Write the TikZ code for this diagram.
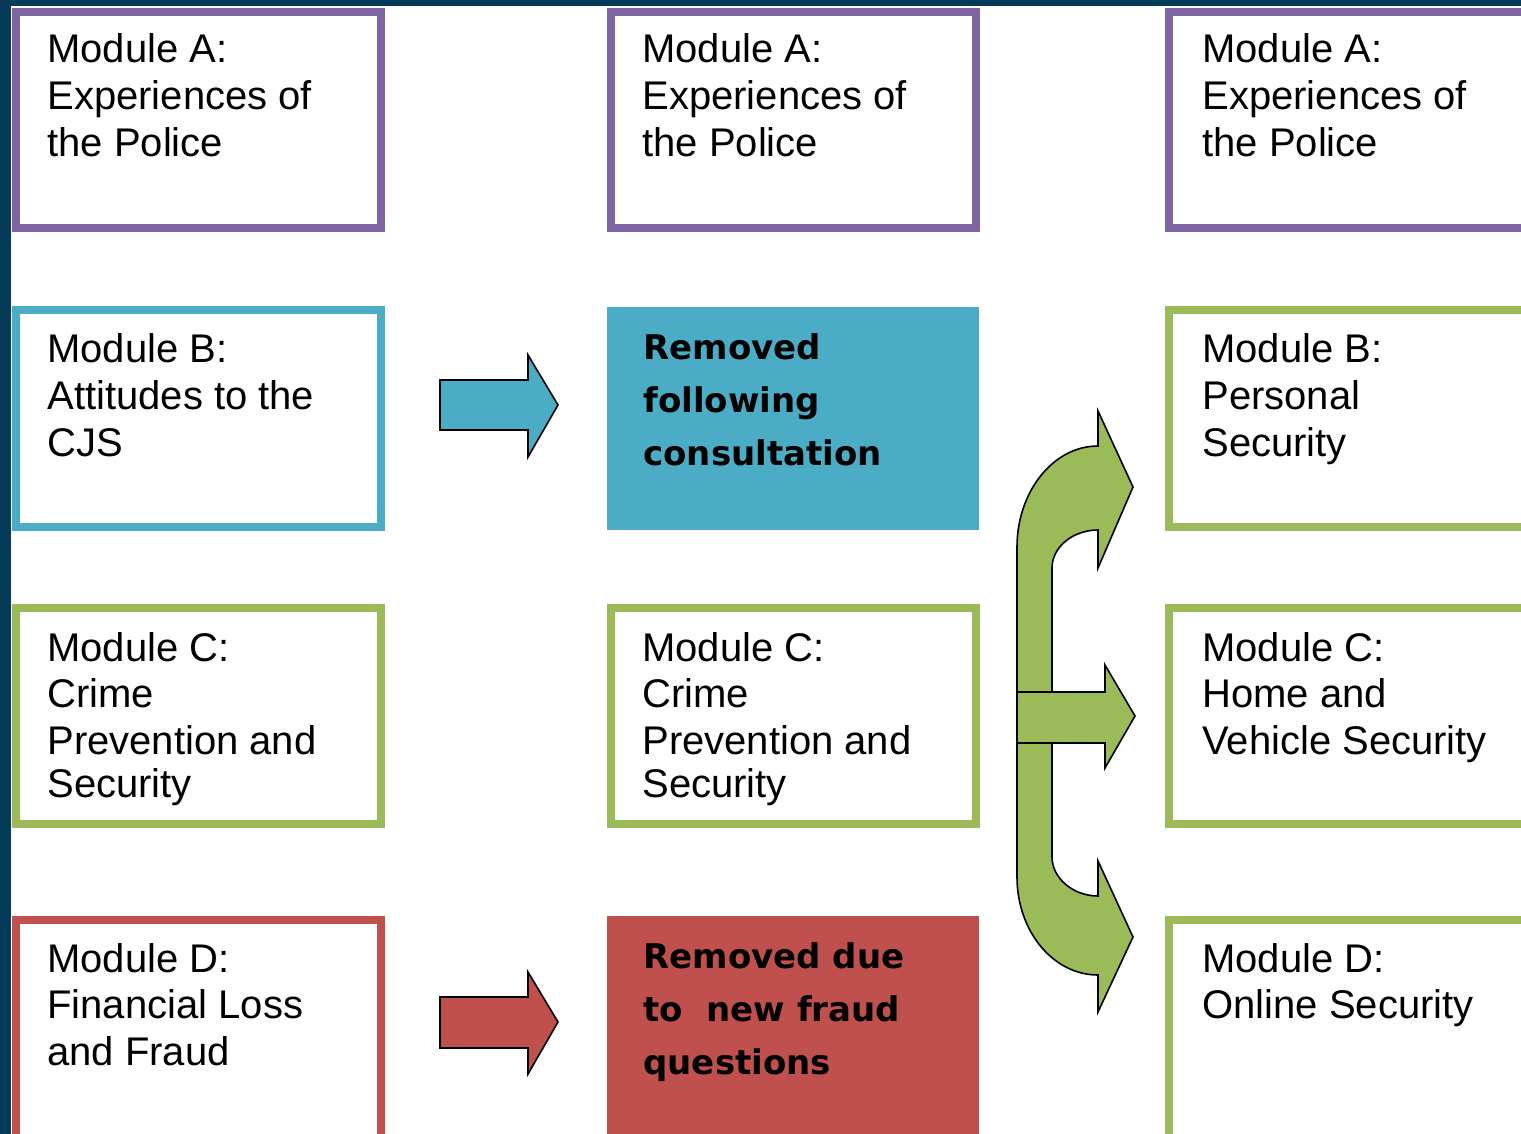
\documentclass[tikz,border=0pt]{standalone}
\usepackage{fontspec}
\setmainfont{Liberation Sans}
\newfontfamily\vbfont{DejaVu Sans}
\definecolor{bgdark}{HTML}{033B59}
\definecolor{mpurple}{HTML}{8064A2}
\definecolor{mblue}{HTML}{4BACC6}
\definecolor{mgreen}{HTML}{9BBB59}
\definecolor{mred}{HTML}{C0504D}
\newcommand\mlines[1]{\begin{tabular}[t]{@{}l@{}}#1\end{tabular}}
\tikzset{
  mbox/.style={draw=#1, line width=4pt, fill=white, minimum width=182.5pt, minimum height=108pt, inner sep=0pt},
  fbox/.style={fill=#1, draw=none, minimum width=186pt, minimum height=112pt, inner sep=0pt},
  mtext/.style={anchor=base west, inner sep=0pt, font=\fontsize{20}{23.3}\selectfont},
  btext/.style={anchor=base west, inner sep=0pt, font=\vbfont\bfseries\fontsize{17}{26.5}\selectfont},
  blockarrow/.style={fill=#1, draw=black, line width=0.8pt, line join=miter},
}
\begin{document}
\begin{tikzpicture}[x=0.5pt, y=-0.5pt]
\useasboundingbox (0,0) rectangle (1521,1134);
\clip (0,0) rectangle (1521,1134);
\fill[bgdark] (0,0) rectangle (1521,1134);
\fill[white] (11,6) rectangle (1530,1140);

% column 1
\node[mbox=mpurple] (a1) at (198.5,120) {};
\node[mbox=mblue] (b1) at (198.5,418.5) {};
\node[mbox=mgreen] (c1) at (198.5,715.5) {};
\node[mbox=mred, minimum height=110pt] (d1) at (198.5,1030) {};
\node[mtext] (ta1) at (47,63) {\mlines{Module A:\\Experiences of\\the Police}};
\node[mtext] (tb1) at (47,363) {\mlines{Module B:\\Attitudes to the\\CJS}};
\node[mtext] (tc1) at (47,661) {\mlines{Module C:\\Crime\\Prevention and\\[-1.5pt]Security}};
\node[mtext] (td1) at (47,972) {\mlines{Module D:\\Financial Loss\\and Fraud}};

% column 2
\node[mbox=mpurple] (a2) at (793,120) {};
\node[fbox=mblue, minimum height=111.5pt] (b2) at (793,418.5) {};
\node[mbox=mgreen] (c2) at (793,715.5) {};
\node[fbox=mred] (d2) at (793,1028) {};
\node[mtext] (ta2) at (642,63) {\mlines{Module A:\\Experiences of\\the Police}};
\node[btext] (tb2) at (643,359) {\mlines{Removed\\following\\consultation}};
\node[mtext] (tc2) at (642,661) {\mlines{Module C:\\Crime\\Prevention and\\[-1.5pt]Security}};
\node[btext] (td2) at (643,968) {\mlines{Removed due\\to\ \ new fraud\\questions}};

% column 3
\node[mbox=mpurple] (a3) at (1351.5,120) {};
\node[mbox=mgreen] (b3) at (1351.5,418.5) {};
\node[mbox=mgreen] (c3) at (1351.5,715.5) {};
\node[mbox=mgreen, minimum height=110pt] (d3) at (1351.5,1030) {};
\node[mtext] (ta3) at (1202,63) {\mlines{Module A:\\Experiences of\\the Police}};
\node[mtext] (tb3) at (1202,363) {\mlines{Module B:\\Personal\\Security}};
\node[mtext] (tc3) at (1202,661) {\mlines{Module C:\\Home and\\Vehicle Security}};
\node[mtext] (td3) at (1202,972) {\mlines{Module D:\\Online Security}};

% block arrows
\draw[blockarrow=mblue] (440,380) -- (528,380) -- (528,355) -- (558,405) -- (528,457) -- (528,430) -- (440,430) -- cycle;
\draw[blockarrow=mred] (440,997) -- (528,997) -- (528,972) -- (558,1022) -- (528,1074) -- (528,1048) -- (440,1048) -- cycle;

% green split arrow
\draw[blockarrow=mgreen]
  (1098,446) -- (1098,411) -- (1133,487) -- (1098,568) -- (1098,530)
  .. controls (1073,530) and (1052,547) .. (1052,568)
  -- (1052,857)
  .. controls (1052,878) and (1073,896) .. (1098,896)
  -- (1098,861) -- (1133,937) -- (1098,1012) -- (1098,975)
  .. controls (1053,975) and (1017,931) .. (1017,877)
  -- (1017,547)
  .. controls (1017,492) and (1053,446) .. (1098,446) -- cycle;
\draw[blockarrow=mgreen] (1017,692) -- (1105,692) -- (1105,665) -- (1135,716) -- (1105,768) -- (1105,743) -- (1017,743) -- cycle;
\end{tikzpicture}
\end{document}
